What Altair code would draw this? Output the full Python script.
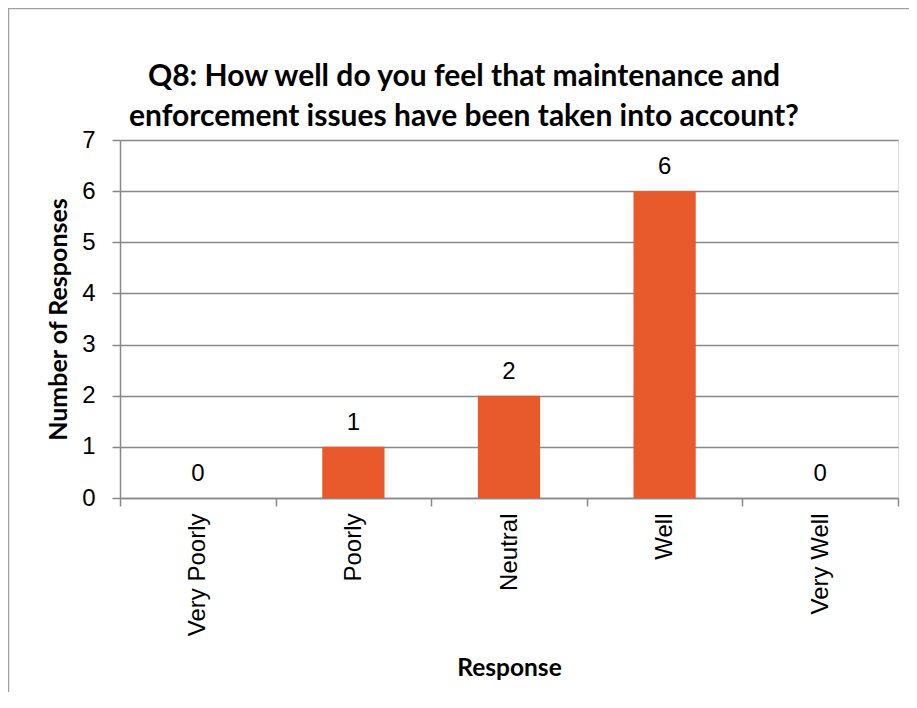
import altair as alt
import pandas as pd

categories = ["Very Poorly", "Poorly", "Neutral", "Well", "Very Well"]
counts = [0, 1, 2, 6, 0]
y_ticks = [0, 1, 2, 3, 4, 5, 6, 7]
title_lines = ["Q8: How well do you feel that maintenance and",
               "enforcement issues have been taken into account?"]

FONT = "Liberation Sans"
TFONT = "Lato"
GRAY = "#888888"
BAR = "#E8592B"

df = pd.DataFrame({"Response": categories, "Count": counts})

x_enc = alt.X(
    "Response:N", sort=categories,
    scale=alt.Scale(paddingInner=0, paddingOuter=0),
    axis=alt.Axis(
        title="Response", labelAngle=-90, labelAlign="right", labelBaseline="middle",
        labelFontSize=24, labelFont=FONT, labelColor="#000000", labelPadding=7,
        ticks=True, tickBand="extent", tickSize=8, tickColor=GRAY, domainColor=GRAY,
        domainWidth=1.5, tickWidth=1.5, grid=False,
        titleFont=TFONT, titleFontSize=24.5, titleFontWeight="bold", titleColor="#000000",
        titlePadding=21,
    ),
)
y_enc = alt.Y(
    "Count:Q",
    scale=alt.Scale(domain=[0, 7], nice=False),
    axis=alt.Axis(
        title="Number of Responses", values=y_ticks, format="d",
        labelFontSize=24, labelFont=FONT, labelColor="#000000", labelPadding=17,
        tickSize=8, tickColor=GRAY, tickWidth=1.5, domainColor=GRAY, domainWidth=1.5,
        grid=True, gridColor=GRAY, gridWidth=1.5,
        titleFont=TFONT, titleFontSize=25, titleFontWeight="bold", titleColor="#000000",
        titlePadding=10,
    ),
)

bars = alt.Chart(df).mark_bar(color=BAR, width=alt.RelativeBandSize(0.4)).encode(x=x_enc, y=y_enc)
labels = alt.Chart(df).mark_text(
    font=FONT, fontSize=24, baseline="alphabetic", dy=-17, color="#000000"
).encode(x=alt.X("Response:N", sort=categories), y=alt.Y("Count:Q"), text=alt.Text("Count:Q"))

frame_df = pd.DataFrame({"k": [0]})
title_mark = alt.Chart(frame_df).mark_text(
    font=TFONT, fontSize=30, fontWeight="bold", color="#000000",
    align="center", baseline="alphabetic", lineHeight=40,
).encode(x=alt.value(344), y=alt.value(-54), text=alt.value(title_lines))
left_border = alt.Chart(frame_df).mark_rule(color="#a0a0a0", strokeWidth=1.5).encode(
    x=alt.value(-111.5), y=alt.value(-132), y2=alt.value(700)
)
top_border = alt.Chart(frame_df).mark_rule(color="#a0a0a0", strokeWidth=1.5).encode(
    x=alt.value(-112), x2=alt.value(800), y=alt.value(-131.5)
)

chart = alt.layer(bars, labels, title_mark, left_border, top_border).properties(
    width=778, height=358,
    autosize=alt.AutoSizeParams(type="none"),
    padding={"left": 112, "top": 132, "right": 11, "bottom": 194},
).configure_view(stroke=None).configure(background="white")

chart.save("out.html", embed_options={"renderer": "svg", "actions": False})
